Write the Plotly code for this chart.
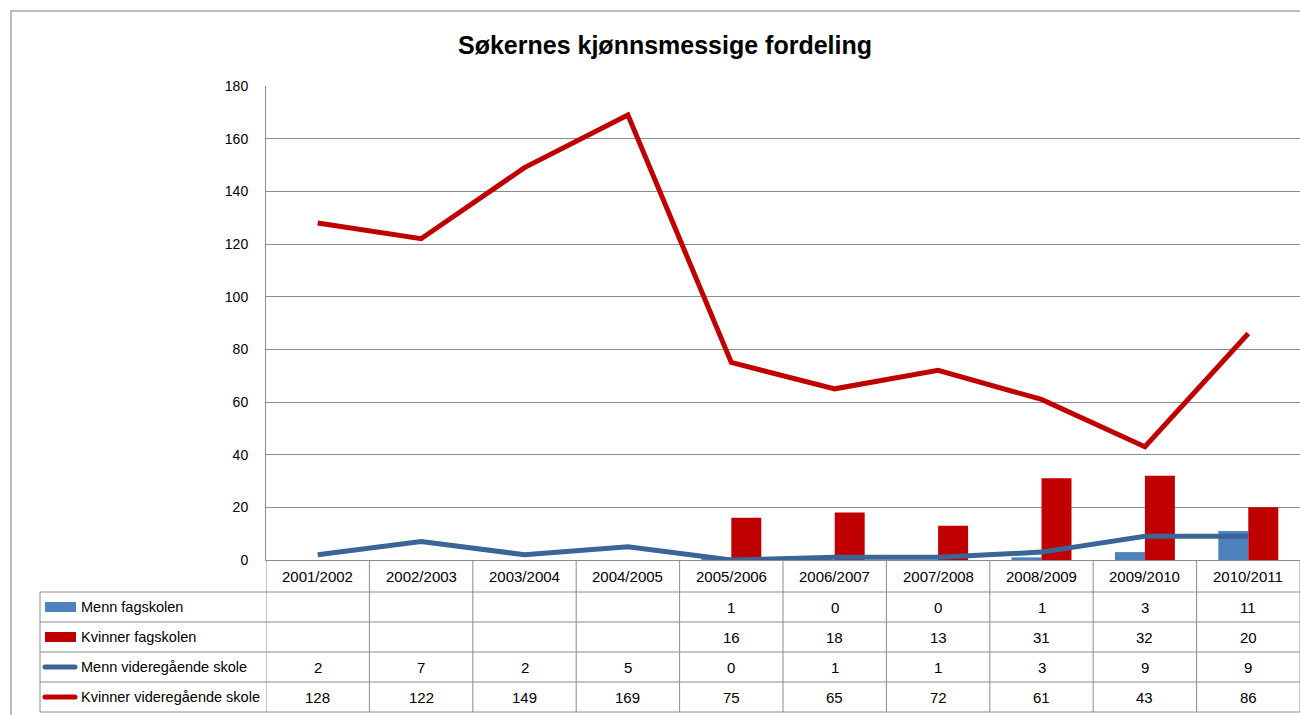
import plotly.graph_objects as go

categories = ["2001/2002", "2002/2003", "2003/2004", "2004/2005", "2005/2006",
              "2006/2007", "2007/2008", "2008/2009", "2009/2010", "2010/2011"]
menn_fagskolen = [None, None, None, None, 1, 0, 0, 1, 3, 11]
kvinner_fagskolen = [None, None, None, None, 16, 18, 13, 31, 32, 20]
menn_vgs = [2, 7, 2, 5, 0, 1, 1, 3, 9, 9]
kvinner_vgs = [128, 122, 149, 169, 75, 65, 72, 61, 43, 86]

series_names = ["Menn fagskolen", "Kvinner fagskolen",
                "Menn videregående skole", "Kvinner videregående skole"]
series_values = [menn_fagskolen, kvinner_fagskolen, menn_vgs, kvinner_vgs]
series_kinds = ["bar", "bar", "line", "line"]
series_colors = ["#4F81BD", "#C00000", "#3A6597", "#C00000"]

title = "Søkernes kjønnsmessige fordeling"
y_ticks = [0, 20, 40, 60, 80, 100, 120, 140, 160, 180]

W, H = 1300, 715
L, R, T, B = 266, 0, 86, 155
PW = W - L - R
PH = H - T - B
FONT = "Liberation Sans, Arial, sans-serif"
GRID = "#8C8C8C"
TFS = 15
LFS = 14.5


def px2x(px):
    return (px - L) / PW


def py2y(py):
    return (H - B - py) / PH


fig = go.Figure()
for name, vals, kind, col in zip(series_names, series_values, series_kinds, series_colors):
    if kind == "bar":
        fig.add_trace(go.Bar(x=categories, y=vals, name=name, marker_color=col,
                             marker_line_width=0))
for name, vals, kind, col in zip(series_names, series_values, series_kinds, series_colors):
    if kind == "line":
        fig.add_trace(go.Scatter(x=categories, y=vals, name=name, mode="lines",
                                 line=dict(color=col, width=5)))

shapes = []
annotations = []

# outer chart border
shapes.append(dict(type="rect", xref="paper", yref="paper",
                   x0=px2x(11), x1=px2x(1310), y0=py2y(11), y1=py2y(730),
                   line=dict(color="#A6A6A6", width=1.5), fillcolor="rgba(0,0,0,0)", layer="below"))

# table geometry (pixels)
header_top, header_bot = H - B, 592
row_h = 30
rows_top = [592 + i * row_h for i in range(4)]
table_bottom = rows_top[-1] + row_h
label_left = 40

n = len(categories)
for i in range(n + 1):
    shapes.append(dict(type="line", xref="x", yref="paper", x0=i - 0.5, x1=i - 0.5,
                       y0=py2y(header_top), y1=py2y(table_bottom),
                       line=dict(color=GRID, width=1)))
for yy in rows_top + [table_bottom]:
    shapes.append(dict(type="line", xref="paper", yref="paper", x0=px2x(label_left), x1=1,
                       y0=py2y(yy), y1=py2y(yy), line=dict(color=GRID, width=1)))
shapes.append(dict(type="line", xref="paper", yref="paper", x0=px2x(label_left), x1=px2x(label_left),
                   y0=py2y(rows_top[0]), y1=py2y(table_bottom), line=dict(color=GRID, width=1)))

for c in categories:
    annotations.append(dict(x=c, xref="x", y=py2y((header_top + header_bot) / 2), yref="paper",
                            text=c, showarrow=False, font=dict(size=TFS, color="#000", family=FONT),
                            xanchor="center", yanchor="middle"))

for r, (name, vals, kind, col) in enumerate(zip(series_names, series_values, series_kinds, series_colors)):
    yc = rows_top[r] + row_h / 2
    if kind == "bar":
        shapes.append(dict(type="rect", xref="paper", yref="paper",
                           x0=px2x(45), x1=px2x(76), y0=py2y(yc - 5), y1=py2y(yc + 5),
                           fillcolor=col, line=dict(width=0)))
    else:
        # rounded-end key line
        x0, x1 = px2x(45), px2x(75)
        yt, yb = py2y(yc - 2.5), py2y(yc + 2.5)
        xr = 2.5 / PW
        path = (f"M {x0} {yt} L {x1} {yt} Q {x1 + xr} {yt} {x1 + xr} {(yt + yb) / 2} "
                f"Q {x1 + xr} {yb} {x1} {yb} L {x0} {yb} Q {x0 - xr} {yb} {x0 - xr} {(yt + yb) / 2} "
                f"Q {x0 - xr} {yt} {x0} {yt} Z")
        shapes.append(dict(type="path", xref="paper", yref="paper", path=path,
                           fillcolor=col, line=dict(width=0)))
    annotations.append(dict(x=px2x(79), xref="paper", y=py2y(yc), yref="paper",
                            text=name, showarrow=False, font=dict(size=LFS, color="#000", family=FONT),
                            xanchor="left", yanchor="middle"))
    for c, v in zip(categories, vals):
        if v is None:
            continue
        annotations.append(dict(x=c, xref="x", y=py2y(yc), yref="paper",
                                text=str(v), showarrow=False,
                                font=dict(size=TFS, color="#000", family=FONT),
                                xanchor="center", yanchor="middle"))

annotations.append(dict(x=px2x(665), xref="paper", y=py2y(45), yref="paper", text="<b>" + title + "</b>",
                        showarrow=False, font=dict(size=25, color="#000", family=FONT),
                        xanchor="center", yanchor="middle"))

fig.update_layout(
    width=W, height=H,
    margin=dict(l=L, r=R, t=T, b=B, autoexpand=False),
    paper_bgcolor="white", plot_bgcolor="white",
    barmode="group", bargap=0.42, bargroupgap=0,
    showlegend=False,
    shapes=shapes, annotations=annotations,
    font=dict(family=FONT, size=13, color="#000"),
)
fig.update_xaxes(type="category", range=[-0.5, n - 0.5], showticklabels=False,
                 showgrid=False, showline=True, linecolor=GRID, linewidth=1, ticks="",
                 zeroline=False, fixedrange=True)
fig.update_yaxes(range=[0, 180], tickvals=y_ticks, showgrid=True, gridcolor=GRID, gridwidth=1,
                 showline=True, linecolor=GRID, linewidth=1, zeroline=False, ticks="",
                 ticklabelstandoff=14, tickfont=dict(size=14, family=FONT, color="#000"),
                 fixedrange=True)

fig.write_html("out.html", config={"displayModeBar": False})

with open("out.html", "r", encoding="utf-8") as f:
    html = f.read()
html = html.replace("<head>", "<head><style>html,body{margin:0;padding:0;overflow:hidden;}</style>", 1)
with open("out.html", "w", encoding="utf-8") as f:
    f.write(html)
